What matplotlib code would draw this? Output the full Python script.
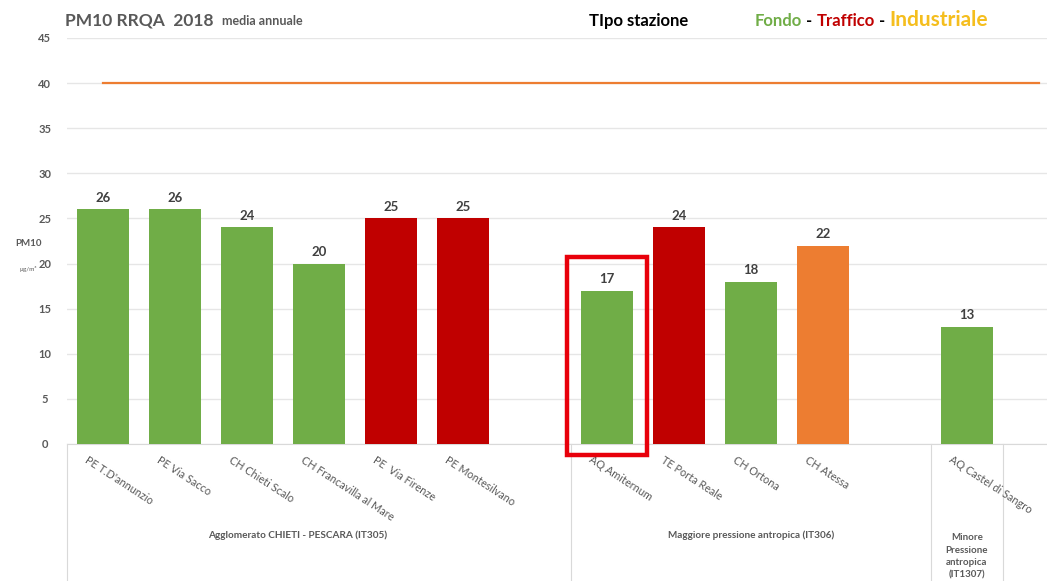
import matplotlib
matplotlib.use("Agg")
import matplotlib.pyplot as plt
from matplotlib.patches import Rectangle
import matplotlib.transforms as mtransforms

plt.rcParams['font.family'] = ['Lato', 'DejaVu Sans']

stations = ["PE T.D'annunzio", "PE Via Sacco", "CH Chieti Scalo", "CH Francavilla al Mare",
            "PE  Via Firenze", "PE Montesilvano", "",
            "AQ Amiternum", "TE Porta Reale", "CH Ortona", "CH Atessa", "",
            "AQ Castel di Sangro", ""]
values = [26, 26, 24, 20, 25, 25, None, 17, 24, 18, 22, None, 13, None]
types = ["F", "F", "F", "F", "T", "T", None, "F", "T", "F", "I", None, "F", None]
limit_value = 40
groups = ["Agglomerato CHIETI - PESCARA (IT305)", "Maggiore pressione antropica (IT306)",
          "Minore\nPressione\nantropica\n(IT1307)"]
group_centers = [2.7, 9.0, 12.0]

colors = {"F": "#70AD47", "T": "#C00000", "I": "#ED7D31"}
gray = "#595959"

fig = plt.figure(figsize=(10.47, 5.81), dpi=100)
W, H = 1047, 581
left_px, right_px = 67, 67 + 72 * 14
ax = fig.add_axes([left_px / W, (H - 444) / H, (right_px - left_px) / W, (444 - 38) / H])

xs = list(range(len(stations)))
for x, v, t in zip(xs, values, types):
    if v is None:
        continue
    ax.bar(x, v, width=0.72, color=colors[t], zorder=3)
    ax.text(x, v + 0.6, f"{v}", ha='center', va='bottom', fontsize=9.5,
            fontweight='bold', color='#404040')

ax.plot([0, len(stations) - 1], [limit_value, limit_value], color="#ED7D31", lw=1.6, zorder=4)

ax.set_xlim(-0.5, len(stations) - 0.5)
ax.set_ylim(0, 45)
ax.set_yticks(range(0, 46, 5))
ax.tick_params(axis='y', length=0, labelsize=8, labelcolor=gray, pad=16)
ax.tick_params(axis='x', length=0)
for lbl in ax.get_yticklabels():
    lbl.set_fontweight('bold')
    lbl.set_horizontalalignment('center')
ax.grid(axis='y', color='#E6E6E6', lw=1, zorder=0)
ax.set_xticks([])
for s in ['top', 'right', 'left']:
    ax.spines[s].set_visible(False)
ax.spines['bottom'].set_color('#D9D9D9')

trans = mtransforms.blended_transform_factory(ax.transData, ax.transAxes)
for x, name in zip(xs, stations):
    if name:
        ax.text(x - 0.2, -0.025, name, transform=trans, rotation=-33, rotation_mode='anchor',
                ha='left', va='top', fontsize=7.8, color=gray)

# group separators
for b in [-0.5, 6.5, 11.5, 12.5]:
    ax.plot([b, b], [0, -0.34], transform=trans, color='#D9D9D9', lw=0.8, clip_on=False)

for g, cx in zip(groups, group_centers):
    if "\n" in g:
        ax.text(cx, -0.22, g, transform=trans, ha='center', va='top', fontsize=7,
                color=gray, fontweight='bold', linespacing=1.5)
    else:
        ax.text(cx, -0.225, g, transform=trans, ha='center', va='center', fontsize=7.2,
                color=gray, fontweight='bold')

# highlight box
ax.add_patch(Rectangle((7 - 0.55, -1.2), 1.1, 21.9, fill=False, edgecolor='#E8000B',
                       lw=3.2, clip_on=False, zorder=5))

fig.canvas.draw()
r = fig.canvas.get_renderer()
def after(t):
    bb = t.get_window_extent(renderer=r)
    return bb.x1 / W

# titles
tt = fig.text(65 / W, 1 - 20 / H, "PM10 RRQA  2018", fontsize=12.5, fontweight='bold', color=gray, va='center')
fig.text(after(tt) + 8 / W, 1 - 21 / H, "media annuale", fontsize=9, fontweight='bold', color=gray, va='center')
fig.text(589 / W, 1 - 21 / H, "TIpo stazione", fontsize=12, fontweight='bold', color='black', va='center')

y_leg = 1 - 21 / H
t1 = fig.text(755 / W, y_leg, "Fondo", fontsize=12, fontweight='bold', color="#70AD47", va='center')
t2 = fig.text(after(t1), y_leg, " - ", fontsize=12, fontweight='bold', color='black', va='center')
t3 = fig.text(after(t2), y_leg, "Traffico", fontsize=12, fontweight='bold', color="#C00000", va='center')
t4 = fig.text(after(t3), y_leg, " - ", fontsize=12, fontweight='bold', color='black', va='center')
t5 = fig.text(after(t4), 1 - 20 / H, "Industriale", fontsize=15, fontweight='bold', color="#F5BE1E", va='center')

fig.text(28 / W, 1 - 243 / H, "PM10", fontsize=7, fontweight='bold', color=gray, va='center', ha='center')
fig.text(28 / W, 1 - 269 / H, "µg/m³", fontsize=4.5, color=gray, va='center', ha='center')

fig.savefig("out.png", dpi=100)
